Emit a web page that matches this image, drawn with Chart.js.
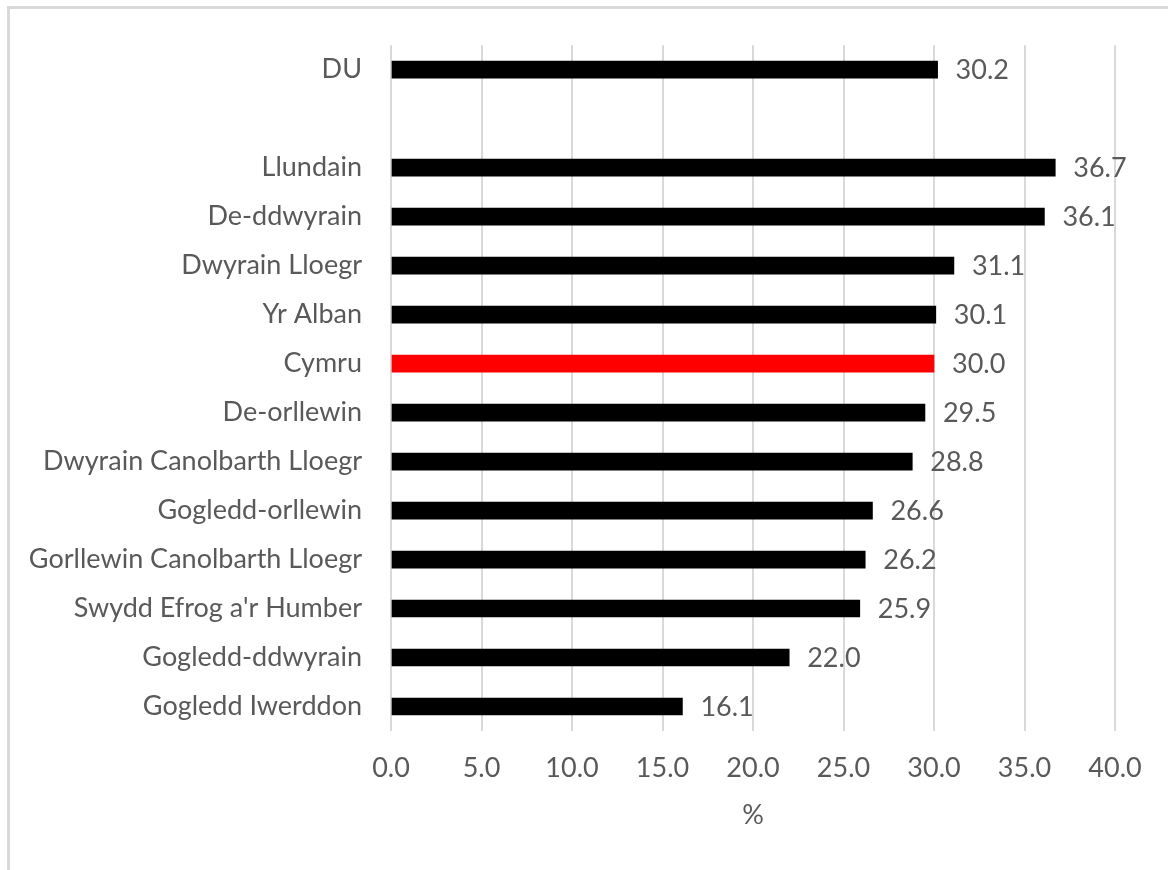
<!DOCTYPE html>
<html>
<head>
<meta charset="utf-8">
<script src="https://cdn.jsdelivr.net/npm/chart.js@4"></script>
<style>
  html, body { margin: 0; padding: 0; background: #fff; overflow: hidden; }
  #frame {
    position: absolute; left: 7px; top: 6px; width: 2000px; height: 2000px;
    border-left: 3px solid #d9d9d9; border-top: 3px solid #d9d9d9;
  }
  #wrap { position: absolute; left: 0; top: 0; width: 1168px; height: 870px; }
</style>
</head>
<body>
<div id="frame"></div>
<div id="wrap"><canvas id="myChart" width="1168" height="870"></canvas></div>
<script>
const regions = ["DU", "", "Llundain", "De-ddwyrain", "Dwyrain Lloegr", "Yr Alban", "Cymru",
  "De-orllewin", "Dwyrain Canolbarth Lloegr", "Gogledd-orllewin", "Gorllewin Canolbarth Lloegr",
  "Swydd Efrog a'r Humber", "Gogledd-ddwyrain", "Gogledd Iwerddon"];
const percents = [30.2, null, 36.7, 36.1, 31.1, 30.1, 30.0, 29.5, 28.8, 26.6, 26.2, 25.9, 22.0, 16.1];
const highlight = "Cymru";
const xTicks = [0, 5, 10, 15, 20, 25, 30, 35, 40];

const textColor = "#595959";
const fontFamily = "Lato, 'Liberation Sans', sans-serif";
const fontSize = 27;

// value labels at the end of each bar
const valueLabels = {
  id: "valueLabels",
  afterDatasetsDraw(chart) {
    const ctx = chart.ctx;
    const meta = chart.getDatasetMeta(0);
    ctx.save();
    ctx.font = fontSize + "px " + fontFamily;
    ctx.fillStyle = textColor;
    ctx.textAlign = "left";
    ctx.textBaseline = "middle";
    meta.data.forEach((bar, i) => {
      const v = percents[i];
      if (v === null) return;
      ctx.fillText(v.toFixed(1), bar.x + 18, bar.y + 1);
    });
    ctx.restore();
  }
};

const ctx = document.getElementById("myChart").getContext("2d");
new Chart(ctx, {
  type: "bar",
  data: {
    labels: regions,
    datasets: [{
      data: percents,
      backgroundColor: regions.map(r => r === highlight ? "#ff0000" : "#000000"),
      barThickness: 17
    }]
  },
  options: {
    indexAxis: "y",
    responsive: false,
    animation: false,
    layout: { padding: { left: 0, top: 42, right: 53, bottom: 39 } },
    plugins: {
      legend: { display: false },
      tooltip: { enabled: false }
    },
    scales: {
      x: {
        min: 0,
        max: 40,
        afterBuildTicks: (scale) => { scale.ticks = xTicks.map(v => ({ value: v })); },
        afterFit: (scale) => { scale.height = 100; },
        grid: { color: "#d9d9d9", lineWidth: 2, drawTicks: false },
        border: { display: false },
        ticks: {
          color: textColor,
          font: { family: fontFamily, size: fontSize },
          padding: 21,
          callback: (v) => Number(v).toFixed(1)
        },
        title: {
          display: true,
          text: "%",
          color: textColor,
          font: { family: fontFamily, size: fontSize },
          padding: 0
        }
      },
      y: {
        afterFit: (scale) => { scale.width = 391; },
        grid: { display: false, drawTicks: false },
        border: { display: false },
        ticks: {
          color: textColor,
          font: { family: fontFamily, size: fontSize },
          padding: 29
        }
      }
    }
  },
  plugins: [valueLabels]
});
</script>
</body>
</html>
